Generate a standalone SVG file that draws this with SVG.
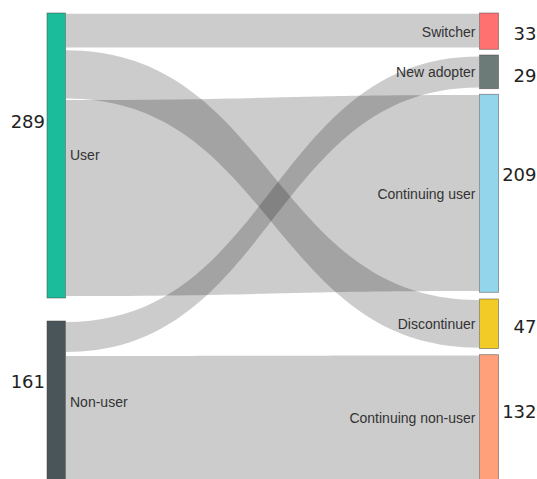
<svg xmlns="http://www.w3.org/2000/svg" width="537" height="479" viewBox="0 0 537 479">
<style>
.link{fill:#000;fill-opacity:0.2;stroke:none}
.node{stroke:#444;stroke-opacity:0.6;stroke-width:0.8}
.lbl{font-family:"Liberation Sans",Arial,sans-serif;font-size:14px;fill:#333}
.num{font-family:"DejaVu Sans",sans-serif;font-size:18px;fill:#222}
.end{text-anchor:end}
</style>
<rect width="537" height="479" fill="#fff"/>
<g id="links">
<path class="link" d="M66,13.7 L479,13.7 L479,47.5 L66,47.5 Z"/>
<path class="link" d="M66,50.3 C272.5,50.3 272.5,300 479,300 L479,347.7 C272.5,347.7 272.5,98.5 66,98.5 Z"/>
<path class="link" d="M66,100 C272.5,100 272.5,95 479,95 L479,291 C272.5,291 272.5,296 66,296 Z"/>
<path class="link" d="M66,322 C272.5,322 272.5,56.5 479,56.5 L479,87.5 C272.5,87.5 272.5,352 66,352 Z"/>
<path class="link" d="M66,356 C272.5,356 272.5,355.5 479,355.5 L479,490 L66,490 Z"/>
</g>
<g id="node-user">
<rect class="node" x="47" y="13" width="18.5" height="285" fill="#1abc9c"/>
<text class="num end" x="45" y="127.5">289</text>
<text class="lbl" x="70" y="160">User</text>
</g>
<g id="node-nonuser">
<rect class="node" x="47" y="321" width="18.5" height="175" fill="#4a5559"/>
<text class="num end" x="45" y="388">161</text>
<text class="lbl" x="70" y="407">Non-user</text>
</g>
<g id="node-switcher">
<rect class="node" x="479.5" y="13" width="19" height="36.3" fill="#ff7070"/>
<text class="lbl end" x="475.5" y="37">Switcher</text>
<text class="num end" x="536.5" y="40">33</text>
</g>
<g id="node-newadopter">
<rect class="node" x="479.5" y="55" width="19" height="33.7" fill="#6c7a78"/>
<text class="lbl end" x="475.5" y="77">New adopter</text>
<text class="num end" x="536.5" y="82">29</text>
</g>
<g id="node-continuinguser">
<rect class="node" x="479.5" y="94.3" width="19" height="198" fill="#93d6ec"/>
<text class="lbl end" x="475.5" y="199">Continuing user</text>
<text class="num end" x="536.5" y="180.5">209</text>
</g>
<g id="node-discontinuer">
<rect class="node" x="479.5" y="299" width="19" height="49.5" fill="#f2cb26"/>
<text class="lbl end" x="475.5" y="329">Discontinuer</text>
<text class="num end" x="536.5" y="332.5">47</text>
</g>
<g id="node-continuingnonuser">
<rect class="node" x="479.5" y="354.7" width="19" height="140" fill="#ffa07a"/>
<text class="lbl end" x="475.5" y="423">Continuing non-user</text>
<text class="num end" x="536.5" y="418">132</text>
</g>
</svg>
